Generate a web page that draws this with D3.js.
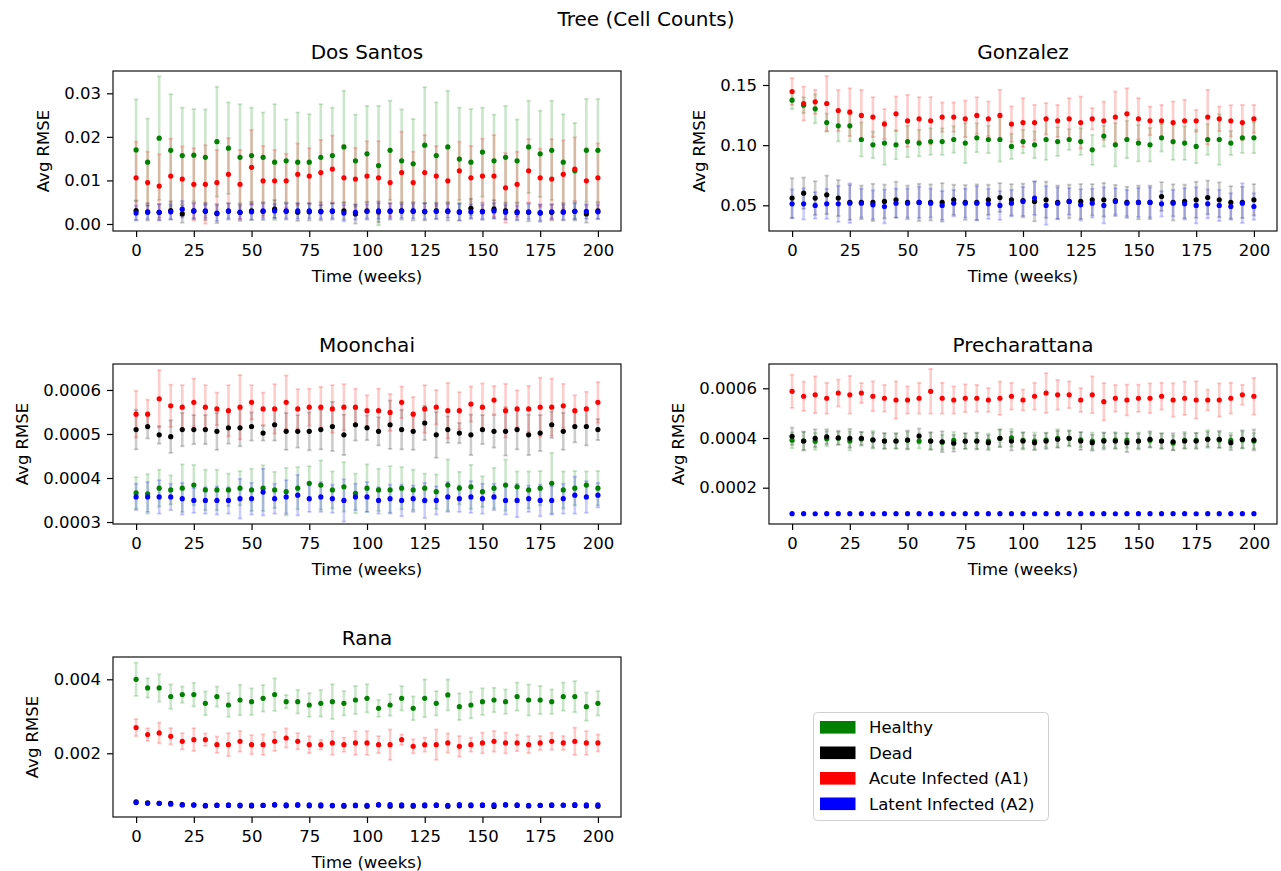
<!DOCTYPE html>
<html>
<head>
<meta charset="utf-8">
<script src="https://cdn.jsdelivr.net/npm/d3@7"></script>
<style>
  body { margin: 0; background: #fff; }
  svg { display: block; font-family: "DejaVu Sans", sans-serif; }
</style>
</head>
<body>
<svg id="chart" width="1281" height="871"></svg>
<script>
// ---- data ---------------------------------------------------------------
const weeks = [0, 5, 10, 15, 20, 25, 30, 35, 40, 45, 50, 55, 60, 65, 70, 75, 80, 85, 90, 95,
  100, 105, 110, 115, 120, 125, 130, 135, 140, 145, 150, 155, 160, 165, 170, 175, 180, 185, 190, 195, 200];
const weekTicks = [0, 25, 50, 75, 100, 125, 150, 175, 200];
const seriesNames = ["Healthy", "Dead", "Acute Infected (A1)", "Latent Infected (A2)"];

// Dos Santos
const dosSantosHealthy = [0.0170, 0.0142, 0.0197, 0.0169, 0.0157, 0.0158, 0.0153, 0.0189, 0.0174, 0.0153,
  0.0157, 0.0153, 0.0142, 0.0145, 0.0142, 0.0142, 0.0153, 0.0157, 0.0177, 0.0145,
  0.0161, 0.0134, 0.0169, 0.0145, 0.0138, 0.0181, 0.0157, 0.0177, 0.0149, 0.0142,
  0.0165, 0.0145, 0.0153, 0.0145, 0.0177, 0.0161, 0.0169, 0.0142, 0.0122, 0.0169, 0.0169];
const dosSantosHealthyErr = [0.0116, 0.0100, 0.0142, 0.0129, 0.0110, 0.0106, 0.0110, 0.0126, 0.0105, 0.0122,
  0.0110, 0.0103, 0.0133, 0.0095, 0.0114, 0.0110, 0.0122, 0.0110, 0.0129, 0.0106,
  0.0110, 0.0137, 0.0114, 0.0118, 0.0103, 0.0133, 0.0122, 0.0129, 0.0118, 0.0122,
  0.0102, 0.0106, 0.0118, 0.0095, 0.0106, 0.0099, 0.0114, 0.0110, 0.0110, 0.0118, 0.0118];
const dosSantosDead = [0.0031, 0.0028, 0.0027, 0.0031, 0.0023, 0.0030, 0.0029, 0.0024, 0.0029, 0.0027,
  0.0030, 0.0029, 0.0034, 0.0029, 0.0027, 0.0028, 0.0029, 0.0029, 0.0030, 0.0023,
  0.0030, 0.0028, 0.0029, 0.0030, 0.0029, 0.0028, 0.0030, 0.0029, 0.0028, 0.0036,
  0.0029, 0.0034, 0.0030, 0.0028, 0.0027, 0.0025, 0.0027, 0.0028, 0.0029, 0.0023, 0.0030];
const dosSantosDeadErr = [0.0022, 0.0020, 0.0019, 0.0021, 0.0020, 0.0019, 0.0020, 0.0022, 0.0019, 0.0020,
  0.0021, 0.0020, 0.0021, 0.0019, 0.0020, 0.0020, 0.0021, 0.0019, 0.0020, 0.0022,
  0.0020, 0.0024, 0.0019, 0.0020, 0.0021, 0.0020, 0.0019, 0.0021, 0.0020, 0.0022,
  0.0020, 0.0021, 0.0019, 0.0020, 0.0021, 0.0020, 0.0019, 0.0020, 0.0021, 0.0020, 0.0019];
const dosSantosAcute = [0.0106, 0.0095, 0.0087, 0.0110, 0.0103, 0.0091, 0.0091, 0.0095, 0.0114, 0.0091,
  0.0130, 0.0099, 0.0099, 0.0099, 0.0114, 0.0110, 0.0118, 0.0126, 0.0106, 0.0103,
  0.0110, 0.0106, 0.0095, 0.0118, 0.0095, 0.0118, 0.0110, 0.0099, 0.0122, 0.0106,
  0.0110, 0.0110, 0.0083, 0.0091, 0.0122, 0.0106, 0.0103, 0.0114, 0.0126, 0.0099, 0.0106];
const dosSantosAcuteErr = [0.0083, 0.0071, 0.0073, 0.0086, 0.0075, 0.0083, 0.0090, 0.0075, 0.0083, 0.0079,
  0.0086, 0.0080, 0.0071, 0.0062, 0.0071, 0.0064, 0.0075, 0.0077, 0.0075, 0.0072,
  0.0080, 0.0084, 0.0078, 0.0094, 0.0071, 0.0086, 0.0069, 0.0075, 0.0067, 0.0073,
  0.0086, 0.0094, 0.0080, 0.0075, 0.0073, 0.0067, 0.0092, 0.0078, 0.0073, 0.0076, 0.0079];
const dosSantosLatent = [0.0025, 0.0027, 0.0027, 0.0028, 0.0034, 0.0030, 0.0030, 0.0025, 0.0030, 0.0027,
  0.0028, 0.0030, 0.0030, 0.0030, 0.0030, 0.0030, 0.0028, 0.0030, 0.0025, 0.0027,
  0.0029, 0.0030, 0.0030, 0.0030, 0.0030, 0.0029, 0.0029, 0.0030, 0.0027, 0.0028,
  0.0028, 0.0030, 0.0027, 0.0026, 0.0028, 0.0026, 0.0028, 0.0027, 0.0029, 0.0029, 0.0028];
const dosSantosLatentErr = [0.0017, 0.0016, 0.0018, 0.0017, 0.0019, 0.0017, 0.0016, 0.0018, 0.0017, 0.0016,
  0.0018, 0.0017, 0.0016, 0.0017, 0.0018, 0.0017, 0.0016, 0.0017, 0.0019, 0.0017,
  0.0016, 0.0018, 0.0017, 0.0016, 0.0017, 0.0018, 0.0017, 0.0016, 0.0019, 0.0017,
  0.0016, 0.0018, 0.0017, 0.0016, 0.0017, 0.0018, 0.0016, 0.0017, 0.0018, 0.0017, 0.0016];
const dosSantosTicks = [0.00, 0.01, 0.02, 0.03];

// Gonzalez
const gonzalezHealthy = [0.1374, 0.1332, 0.1302, 0.1188, 0.1161, 0.1161, 0.1047, 0.1003, 0.1017, 0.1003,
  0.1030, 0.1017, 0.1030, 0.1030, 0.1047, 0.1017, 0.1061, 0.1047, 0.1047, 0.0989,
  0.1030, 0.1003, 0.1047, 0.1030, 0.1047, 0.1030, 0.0961, 0.1075, 0.1003, 0.1047,
  0.1017, 0.1003, 0.1061, 0.1030, 0.1017, 0.0989, 0.1047, 0.1047, 0.1017, 0.1061, 0.1061];
const gonzalezHealthyErr = [0.0075, 0.0066, 0.0120, 0.0075, 0.0130, 0.0130, 0.0141, 0.0110, 0.0180, 0.0120,
  0.0130, 0.0110, 0.0110, 0.0110, 0.0110, 0.0166, 0.0120, 0.0114, 0.0183, 0.0105,
  0.0097, 0.0111, 0.0169, 0.0120, 0.0086, 0.0111, 0.0125, 0.0086, 0.0180, 0.0155,
  0.0152, 0.0139, 0.0114, 0.0152, 0.0139, 0.0139, 0.0127, 0.0210, 0.0100, 0.0127, 0.0127];
const gonzalezDead = [0.0560, 0.0601, 0.0560, 0.0587, 0.0560, 0.0524, 0.0524, 0.0524, 0.0532, 0.0546,
  0.0524, 0.0524, 0.0524, 0.0524, 0.0546, 0.0524, 0.0524, 0.0546, 0.0565, 0.0546,
  0.0540, 0.0532, 0.0546, 0.0524, 0.0532, 0.0532, 0.0546, 0.0546, 0.0540, 0.0524,
  0.0524, 0.0524, 0.0573, 0.0524, 0.0532, 0.0546, 0.0565, 0.0546, 0.0524, 0.0524, 0.0546];
const gonzalezDeadErr = [0.0165, 0.0130, 0.0140, 0.0160, 0.0150, 0.0145, 0.0140, 0.0155, 0.0140, 0.0150,
  0.0140, 0.0155, 0.0150, 0.0160, 0.0125, 0.0145, 0.0150, 0.0125, 0.0120, 0.0130,
  0.0140, 0.0165, 0.0150, 0.0140, 0.0140, 0.0145, 0.0130, 0.0140, 0.0130, 0.0130,
  0.0140, 0.0140, 0.0120, 0.0150, 0.0140, 0.0150, 0.0140, 0.0145, 0.0135, 0.0130, 0.0130];
const gonzalezAcute = [0.1446, 0.1346, 0.1360, 0.1346, 0.1288, 0.1274, 0.1247, 0.1233, 0.1175, 0.1260,
  0.1202, 0.1219, 0.1202, 0.1233, 0.1233, 0.1219, 0.1247, 0.1219, 0.1247, 0.1175,
  0.1188, 0.1188, 0.1219, 0.1202, 0.1219, 0.1188, 0.1219, 0.1202, 0.1233, 0.1260,
  0.1219, 0.1202, 0.1202, 0.1188, 0.1202, 0.1202, 0.1233, 0.1219, 0.1202, 0.1188, 0.1219];
const gonzalezAcuteErr = [0.0111, 0.0141, 0.0100, 0.0230, 0.0172, 0.0199, 0.0213, 0.0166, 0.0125, 0.0144,
  0.0216, 0.0180, 0.0197, 0.0122, 0.0122, 0.0152, 0.0152, 0.0144, 0.0213, 0.0147,
  0.0202, 0.0147, 0.0130, 0.0133, 0.0172, 0.0216, 0.0089, 0.0160, 0.0213, 0.0213,
  0.0172, 0.0119, 0.0133, 0.0175, 0.0175, 0.0091, 0.0227, 0.0102, 0.0130, 0.0147, 0.0116];
const gonzalezLatent = [0.0512, 0.0512, 0.0499, 0.0512, 0.0512, 0.0518, 0.0518, 0.0504, 0.0490, 0.0518,
  0.0518, 0.0524, 0.0518, 0.0499, 0.0518, 0.0518, 0.0518, 0.0512, 0.0499, 0.0518,
  0.0532, 0.0560, 0.0499, 0.0518, 0.0532, 0.0504, 0.0518, 0.0499, 0.0532, 0.0518,
  0.0524, 0.0524, 0.0512, 0.0518, 0.0512, 0.0499, 0.0512, 0.0499, 0.0490, 0.0518, 0.0490];
const gonzalezLatentErr = [0.0120, 0.0130, 0.0110, 0.0125, 0.0150, 0.0165, 0.0120, 0.0120, 0.0140, 0.0120,
  0.0120, 0.0130, 0.0120, 0.0120, 0.0110, 0.0120, 0.0140, 0.0125, 0.0120, 0.0110,
  0.0120, 0.0140, 0.0160, 0.0130, 0.0110, 0.0130, 0.0120, 0.0150, 0.0110, 0.0110,
  0.0120, 0.0125, 0.0105, 0.0110, 0.0130, 0.0150, 0.0120, 0.0130, 0.0110, 0.0165, 0.0110];
const gonzalezTicks = [0.05, 0.10, 0.15];

// Moonchai
const moonchaiHealthy = [0.000366, 0.000364, 0.000377, 0.000373, 0.000377, 0.000384, 0.000373, 0.000373, 0.000373, 0.000377,
  0.000373, 0.000377, 0.000373, 0.000369, 0.000377, 0.000388, 0.000384, 0.000373, 0.000380, 0.000365,
  0.000377, 0.000373, 0.000373, 0.000377, 0.000373, 0.000377, 0.000369, 0.000384, 0.000377, 0.000380,
  0.000369, 0.000377, 0.000384, 0.000380, 0.000373, 0.000377, 0.000388, 0.000373, 0.000377, 0.000384, 0.000377];
const moonchaiHealthyErr = [3.6e-5, 4.5e-5, 4.2e-5, 3.3e-5, 5.4e-5, 4.6e-5, 4.6e-5, 4.6e-5, 3.7e-5, 3.9e-5,
  4.8e-5, 5.2e-5, 4.1e-5, 5.4e-5, 4.8e-5, 3.9e-5, 5.6e-5, 4.2e-5, 5.6e-5, 4.5e-5,
  5.4e-5, 4.8e-5, 5.4e-5, 4.8e-5, 4.6e-5, 3.3e-5, 3.9e-5, 5.8e-5, 3.7e-5, 5.0e-5,
  3.5e-5, 4.6e-5, 5.8e-5, 3.5e-5, 4.2e-5, 3.9e-5, 6.9e-5, 4.2e-5, 3.9e-5, 3.1e-5, 3.9e-5];
const moonchaiDead = [0.000510, 0.000517, 0.000498, 0.000494, 0.000510, 0.000510, 0.000510, 0.000506, 0.000514, 0.000514,
  0.000517, 0.000502, 0.000521, 0.000506, 0.000506, 0.000506, 0.000510, 0.000517, 0.000498, 0.000521,
  0.000514, 0.000506, 0.000521, 0.000510, 0.000506, 0.000525, 0.000498, 0.000510, 0.000502, 0.000498,
  0.000510, 0.000506, 0.000506, 0.000510, 0.000498, 0.000502, 0.000521, 0.000506, 0.000517, 0.000517, 0.000510];
const moonchaiDeadErr = [4.5e-5, 2.7e-5, 2.0e-5, 3.7e-5, 3.8e-5, 3.3e-5, 3.3e-5, 4.2e-5, 3.6e-5, 4.2e-5,
  3.2e-5, 1.7e-5, 3.6e-5, 4.2e-5, 3.7e-5, 4.3e-5, 4.5e-5, 5.6e-5, 4.6e-5, 3.6e-5,
  2.8e-5, 3.2e-5, 5.5e-5, 4.5e-5, 4.2e-5, 3.9e-5, 5.2e-5, 3.0e-5, 2.3e-5, 4.6e-5,
  3.3e-5, 3.7e-5, 5.5e-5, 4.5e-5, 4.6e-5, 4.1e-5, 3.0e-5, 4.2e-5, 3.6e-5, 4.3e-5, 2.4e-5];
const moonchaiAcute = [0.000545, 0.000545, 0.000580, 0.000564, 0.000561, 0.000572, 0.000561, 0.000557, 0.000553, 0.000561,
  0.000572, 0.000557, 0.000557, 0.000572, 0.000557, 0.000561, 0.000561, 0.000557, 0.000561, 0.000561,
  0.000553, 0.000553, 0.000549, 0.000572, 0.000545, 0.000557, 0.000561, 0.000553, 0.000553, 0.000568,
  0.000561, 0.000577, 0.000553, 0.000557, 0.000557, 0.000561, 0.000561, 0.000564, 0.000553, 0.000557, 0.000572];
const moonchaiAcuteErr = [5.3e-5, 3.3e-5, 6.5e-5, 4.8e-5, 5.0e-5, 5.4e-5, 5.0e-5, 3.7e-5, 5.8e-5, 7.3e-5,
  3.9e-5, 3.7e-5, 5.6e-5, 6.1e-5, 4.5e-5, 4.2e-5, 4.6e-5, 5.4e-5, 5.2e-5, 4.2e-5,
  3.5e-5, 5.0e-5, 4.2e-5, 3.6e-5, 3.9e-5, 5.4e-5, 3.9e-5, 6.3e-5, 4.2e-5, 4.0e-5,
  5.4e-5, 3.2e-5, 6.1e-5, 4.2e-5, 5.2e-5, 6.7e-5, 6.5e-5, 5.0e-5, 3.5e-5, 3.9e-5, 4.6e-5];
const moonchaiLatent = [0.000357, 0.000357, 0.000357, 0.000357, 0.000353, 0.000349, 0.000349, 0.000349, 0.000349, 0.000353,
  0.000353, 0.000368, 0.000353, 0.000357, 0.000361, 0.000353, 0.000357, 0.000353, 0.000349, 0.000357,
  0.000357, 0.000349, 0.000353, 0.000349, 0.000353, 0.000349, 0.000349, 0.000357, 0.000353, 0.000357,
  0.000353, 0.000357, 0.000349, 0.000349, 0.000353, 0.000349, 0.000349, 0.000353, 0.000361, 0.000357, 0.000361];
const moonchaiLatentErr = [3.0e-5, 3.4e-5, 3.8e-5, 3.0e-5, 3.6e-5, 2.8e-5, 3.0e-5, 3.2e-5, 3.0e-5, 4.5e-5,
  3.6e-5, 5.3e-5, 3.4e-5, 3.8e-5, 4.6e-5, 3.0e-5, 3.4e-5, 3.2e-5, 4.8e-5, 3.0e-5,
  3.4e-5, 3.0e-5, 3.2e-5, 3.6e-5, 3.0e-5, 4.0e-5, 3.2e-5, 3.4e-5, 3.0e-5, 3.6e-5,
  3.4e-5, 3.0e-5, 3.2e-5, 3.8e-5, 3.0e-5, 3.6e-5, 3.2e-5, 3.4e-5, 4.2e-5, 3.6e-5, 2.8e-5];
const moonchaiTicks = [0.0003, 0.0004, 0.0005, 0.0006];

// Precharattana
const precharattanaHealthy = [0.000391, 0.000388, 0.000387, 0.000397, 0.000399, 0.000388, 0.000396, 0.000393, 0.000388, 0.000388,
  0.000391, 0.000388, 0.000388, 0.000383, 0.000391, 0.000387, 0.000388, 0.000388, 0.000399, 0.000401,
  0.000391, 0.000388, 0.000392, 0.000399, 0.000399, 0.000393, 0.000388, 0.000391, 0.000392, 0.000391,
  0.000388, 0.000391, 0.000388, 0.000380, 0.000391, 0.000391, 0.000396, 0.000392, 0.000391, 0.000392, 0.000388];
const precharattanaHealthyErr = [3.2e-5, 3.6e-5, 3.4e-5, 3.0e-5, 2.6e-5, 3.8e-5, 2.8e-5, 3.6e-5, 3.0e-5, 3.2e-5,
  3.4e-5, 3.0e-5, 3.2e-5, 3.0e-5, 3.4e-5, 3.0e-5, 3.2e-5, 3.0e-5, 3.4e-5, 3.6e-5,
  3.2e-5, 3.4e-5, 3.0e-5, 3.6e-5, 3.2e-5, 3.0e-5, 3.4e-5, 3.0e-5, 3.2e-5, 3.0e-5,
  3.4e-5, 3.0e-5, 3.2e-5, 3.0e-5, 3.4e-5, 3.0e-5, 3.6e-5, 3.2e-5, 3.0e-5, 3.4e-5, 3.2e-5];
const precharattanaDead = [0.000407, 0.000388, 0.000399, 0.000405, 0.000401, 0.000399, 0.000399, 0.000392, 0.000388, 0.000388,
  0.000392, 0.000408, 0.000388, 0.000385, 0.000379, 0.000388, 0.000388, 0.000381, 0.000399, 0.000388,
  0.000388, 0.000381, 0.000388, 0.000395, 0.000399, 0.000388, 0.000381, 0.000388, 0.000388, 0.000381,
  0.000388, 0.000395, 0.000388, 0.000385, 0.000388, 0.000388, 0.000395, 0.000395, 0.000381, 0.000395, 0.000392];
const precharattanaDeadErr = [3.5e-5, 3.8e-5, 3.6e-5, 3.0e-5, 2.8e-5, 3.8e-5, 2.6e-5, 3.0e-5, 3.2e-5, 3.0e-5,
  3.8e-5, 3.0e-5, 3.6e-5, 4.2e-5, 3.4e-5, 3.2e-5, 3.4e-5, 3.0e-5, 3.6e-5, 3.8e-5,
  3.4e-5, 3.0e-5, 3.2e-5, 3.4e-5, 3.0e-5, 3.6e-5, 3.2e-5, 3.4e-5, 3.2e-5, 3.8e-5,
  3.0e-5, 3.2e-5, 3.0e-5, 3.4e-5, 3.0e-5, 3.2e-5, 3.0e-5, 3.4e-5, 3.0e-5, 3.6e-5, 4.2e-5];
const precharattanaAcute = [0.000588, 0.000568, 0.000574, 0.000560, 0.000581, 0.000574, 0.000581, 0.000568, 0.000560, 0.000553,
  0.000553, 0.000560, 0.000588, 0.000560, 0.000553, 0.000560, 0.000560, 0.000553, 0.000560, 0.000568,
  0.000553, 0.000568, 0.000581, 0.000574, 0.000574, 0.000553, 0.000574, 0.000546, 0.000560, 0.000553,
  0.000560, 0.000560, 0.000568, 0.000553, 0.000560, 0.000553, 0.000553, 0.000553, 0.000560, 0.000574, 0.000568];
const precharattanaAcuteErr = [6.7e-5, 5.9e-5, 7.4e-5, 6.2e-5, 5.4e-5, 7.6e-5, 4.0e-5, 6.0e-5, 5.4e-5, 7.5e-5,
  5.5e-5, 6.2e-5, 9.0e-5, 6.2e-5, 5.5e-5, 5.6e-5, 5.4e-5, 4.8e-5, 6.7e-5, 5.4e-5,
  4.2e-5, 5.4e-5, 8.0e-5, 6.0e-5, 5.4e-5, 4.8e-5, 7.4e-5, 7.5e-5, 5.4e-5, 6.2e-5,
  5.5e-5, 6.0e-5, 5.4e-5, 6.7e-5, 6.7e-5, 7.5e-5, 4.2e-5, 6.7e-5, 6.2e-5, 4.0e-5, 7.4e-5];
const precharattanaLatent = [0.0000953, 0.0000953, 0.0000952, 0.0000953, 0.0000953, 0.0000954, 0.0000953, 0.0000952, 0.0000953, 0.0000953,
  0.0000953, 0.0000954, 0.0000953, 0.0000953, 0.0000952, 0.0000953, 0.0000953, 0.0000953, 0.0000954, 0.0000953,
  0.0000953, 0.0000952, 0.0000953, 0.0000953, 0.0000953, 0.0000954, 0.0000953, 0.0000953, 0.0000952, 0.0000953,
  0.0000953, 0.0000953, 0.0000954, 0.0000953, 0.0000953, 0.0000952, 0.0000953, 0.0000953, 0.0000953, 0.0000954, 0.0000953];
const precharattanaLatentErr = [2.0e-6, 1.8e-6, 2.1e-6, 1.9e-6, 2.0e-6, 1.8e-6, 2.0e-6, 2.1e-6, 1.9e-6, 2.0e-6,
  1.8e-6, 2.0e-6, 2.1e-6, 1.9e-6, 2.0e-6, 1.8e-6, 2.0e-6, 2.1e-6, 1.9e-6, 2.0e-6,
  1.8e-6, 2.0e-6, 2.1e-6, 1.9e-6, 2.0e-6, 1.8e-6, 2.0e-6, 2.1e-6, 1.9e-6, 2.0e-6,
  1.8e-6, 2.0e-6, 2.1e-6, 1.9e-6, 2.0e-6, 1.8e-6, 2.0e-6, 2.1e-6, 1.9e-6, 2.0e-6, 1.8e-6];
const precharattanaTicks = [0.0002, 0.0004, 0.0006];

// Rana
const ranaHealthy = [0.004000, 0.003766, 0.003766, 0.003532, 0.003586, 0.003586, 0.003351, 0.003532, 0.003306, 0.003441,
  0.003396, 0.003487, 0.003586, 0.003396, 0.003396, 0.003306, 0.003351, 0.003396, 0.003351, 0.003441,
  0.003487, 0.003216, 0.003306, 0.003487, 0.003216, 0.003487, 0.003351, 0.003577, 0.003261, 0.003306,
  0.003396, 0.003441, 0.003396, 0.003532, 0.003441, 0.003441, 0.003396, 0.003532, 0.003532, 0.003261, 0.003351];
const ranaHealthyErr = [4.5e-4, 2.6e-4, 3.7e-4, 3.3e-4, 2.2e-4, 3.2e-4, 3.2e-4, 2.7e-4, 3.2e-4, 4.1e-4,
  3.6e-4, 3.6e-4, 4.4e-4, 1.8e-4, 3.2e-4, 3.2e-4, 3.6e-4, 4.7e-4, 3.3e-4, 3.8e-4,
  3.8e-4, 2.3e-4, 2.9e-4, 3.3e-4, 3.2e-4, 5.1e-4, 3.3e-4, 4.2e-4, 3.6e-4, 3.6e-4,
  3.6e-4, 3.3e-4, 3.3e-4, 3.8e-4, 4.2e-4, 3.8e-4, 3.3e-4, 3.8e-4, 4.2e-4, 3.8e-4, 3.3e-4];
const ranaDead = [0.000685, 0.000660, 0.000650, 0.000650, 0.000610, 0.000600, 0.000575, 0.000590, 0.000590, 0.000580,
  0.000575, 0.000590, 0.000600, 0.000580, 0.000595, 0.000580, 0.000575, 0.000580, 0.000570, 0.000585,
  0.000570, 0.000600, 0.000570, 0.000575, 0.000570, 0.000580, 0.000590, 0.000570, 0.000580, 0.000585,
  0.000590, 0.000565, 0.000600, 0.000590, 0.000575, 0.000590, 0.000590, 0.000595, 0.000590, 0.000575, 0.000570];
const ranaDeadErr = [3.2e-5, 3.0e-5, 2.8e-5, 3.4e-5, 3.0e-5, 2.6e-5, 3.2e-5, 3.0e-5, 2.8e-5, 3.0e-5,
  3.2e-5, 2.8e-5, 3.0e-5, 3.4e-5, 3.0e-5, 2.8e-5, 3.2e-5, 3.0e-5, 2.6e-5, 3.0e-5,
  3.2e-5, 3.0e-5, 2.8e-5, 3.0e-5, 3.4e-5, 3.0e-5, 2.8e-5, 3.2e-5, 3.0e-5, 2.8e-5,
  3.0e-5, 3.2e-5, 3.0e-5, 2.8e-5, 3.0e-5, 3.4e-5, 3.0e-5, 2.8e-5, 3.2e-5, 3.0e-5, 2.8e-5];
const ranaAcute = [0.002694, 0.002505, 0.002550, 0.002460, 0.002324, 0.002369, 0.002369, 0.002234, 0.002234, 0.002324,
  0.002234, 0.002234, 0.002324, 0.002414, 0.002324, 0.002234, 0.002234, 0.002279, 0.002234, 0.002279,
  0.002279, 0.002234, 0.002234, 0.002369, 0.002189, 0.002234, 0.002234, 0.002279, 0.002189, 0.002234,
  0.002279, 0.002324, 0.002279, 0.002279, 0.002234, 0.002279, 0.002324, 0.002279, 0.002324, 0.002279, 0.002279];
const ranaAcuteErr = [2.3e-4, 1.7e-4, 2.8e-4, 2.2e-4, 2.2e-4, 3.1e-4, 1.7e-4, 2.2e-4, 3.1e-4, 2.8e-4,
  2.6e-4, 2.8e-4, 2.6e-4, 2.6e-4, 2.2e-4, 2.3e-4, 1.3e-4, 3.2e-4, 1.9e-4, 3.2e-4,
  3.2e-4, 2.3e-4, 4.1e-4, 1.4e-4, 1.9e-4, 1.9e-4, 4.1e-4, 2.6e-4, 2.8e-4, 1.9e-4,
  2.8e-4, 2.8e-4, 2.8e-4, 2.2e-4, 2.3e-4, 1.9e-4, 2.3e-4, 1.9e-4, 3.7e-4, 3.2e-4, 2.3e-4];
const ranaLatent = [0.000667, 0.000649, 0.000649, 0.000622, 0.000604, 0.000604, 0.000595, 0.000600, 0.000604, 0.000600,
  0.000600, 0.000595, 0.000613, 0.000604, 0.000610, 0.000604, 0.000604, 0.000595, 0.000590, 0.000600,
  0.000595, 0.000613, 0.000610, 0.000605, 0.000595, 0.000604, 0.000604, 0.000595, 0.000610, 0.000604,
  0.000604, 0.000605, 0.000613, 0.000604, 0.000595, 0.000595, 0.000604, 0.000600, 0.000610, 0.000604, 0.000604];
const ranaLatentErr = [2.6e-5, 2.4e-5, 2.2e-5, 2.6e-5, 2.4e-5, 2.2e-5, 2.5e-5, 2.4e-5, 2.2e-5, 2.6e-5,
  2.4e-5, 2.2e-5, 2.5e-5, 2.4e-5, 2.6e-5, 2.2e-5, 2.4e-5, 2.5e-5, 2.2e-5, 2.4e-5,
  2.6e-5, 2.4e-5, 2.2e-5, 2.5e-5, 2.4e-5, 2.2e-5, 2.6e-5, 2.4e-5, 2.2e-5, 2.5e-5,
  2.4e-5, 2.6e-5, 2.2e-5, 2.4e-5, 2.5e-5, 2.2e-5, 2.4e-5, 2.6e-5, 2.4e-5, 2.2e-5, 2.4e-5];
const ranaTicks = [0.002, 0.004];

// ---- layout & drawing ---------------------------------------------------
const colors = ["#008000", "#000000", "#ff0000", "#0000ff"];
const svg = d3.select("#chart");
const W = 508, H = 160;

const panels = [
  { title: "Dos Santos", left: 113, top: 71, yDomain: [-0.00161, 0.03512], ticks: dosSantosTicks, fmt: ".2f",
    series: [[dosSantosHealthy, dosSantosHealthyErr], [dosSantosDead, dosSantosDeadErr],
             [dosSantosAcute, dosSantosAcuteErr], [dosSantosLatent, dosSantosLatentErr]] },
  { title: "Gonzalez", left: 769, top: 71, yDomain: [0.02864, 0.16163], ticks: gonzalezTicks, fmt: ".2f",
    series: [[gonzalezHealthy, gonzalezHealthyErr], [gonzalezDead, gonzalezDeadErr],
             [gonzalezAcute, gonzalezAcuteErr], [gonzalezLatent, gonzalezLatentErr]] },
  { title: "Moonchai", left: 113, top: 364, yDomain: [0.0002955, 0.000659], ticks: moonchaiTicks, fmt: ".4f",
    series: [[moonchaiHealthy, moonchaiHealthyErr], [moonchaiDead, moonchaiDeadErr],
             [moonchaiAcute, moonchaiAcuteErr], [moonchaiLatent, moonchaiLatentErr]] },
  { title: "Precharattana", left: 769, top: 364, yDomain: [0.0000539, 0.0006978], ticks: precharattanaTicks, fmt: ".4f",
    series: [[precharattanaHealthy, precharattanaHealthyErr], [precharattanaDead, precharattanaDeadErr],
             [precharattanaAcute, precharattanaAcuteErr], [precharattanaLatent, precharattanaLatentErr]] },
  { title: "Rana", left: 113, top: 657, yDomain: [0.000278, 0.004603], ticks: ranaTicks, fmt: ".3f",
    series: [[ranaHealthy, ranaHealthyErr], [ranaDead, ranaDeadErr],
             [ranaAcute, ranaAcuteErr], [ranaLatent, ranaLatentErr]] }
];

svg.append("text")
  .attr("x", 646).attr("y", 26)
  .attr("text-anchor", "middle")
  .attr("font-size", "20px").attr("fill", "#000")
  .text("Tree (Cell Counts)");

panels.forEach(p => {
  const g = svg.append("g").attr("transform", `translate(${p.left},${p.top})`);
  const x = d3.scaleLinear().domain([-10, 210]).range([0, W]);
  const y = d3.scaleLinear().domain(p.yDomain).range([H, 0]);

  // error bars: all series first, markers drawn on top afterwards
  p.series.forEach(([mean, err], si) => {
    const bars = g.append("g").attr("stroke", colors[si]).attr("stroke-opacity", 0.2);
    weeks.forEach((t, i) => {
      const cx = x(t), y0 = y(mean[i] - err[i]), y1 = y(mean[i] + err[i]);
      bars.append("line").attr("x1", cx).attr("x2", cx).attr("y1", y0).attr("y2", y1)
        .attr("stroke-width", 2.6);
      [y0, y1].forEach(cy => bars.append("line")
        .attr("x1", cx - 2.2).attr("x2", cx + 2.2).attr("y1", cy).attr("y2", cy)
        .attr("stroke-width", 1.8));
    });
  });
  p.series.forEach(([mean], si) => {
    g.append("g").attr("fill", colors[si])
      .selectAll("circle").data(weeks).join("circle")
      .attr("cx", t => x(t)).attr("cy", (t, i) => y(mean[i])).attr("r", 2.6);
  });

  // axes
  const xAxis = g.append("g").attr("transform", `translate(0,${H})`)
    .call(d3.axisBottom(x).tickValues(weekTicks).tickSize(6).tickPadding(7).tickFormat(d3.format("d")));
  const yAxis = g.append("g")
    .call(d3.axisLeft(y).tickValues(p.ticks).tickSize(6).tickPadding(6).tickFormat(d3.format(p.fmt)));
  [xAxis, yAxis].forEach(a => {
    a.select(".domain").remove();
    a.selectAll(".tick line").attr("stroke", "#000").attr("stroke-width", 1.2);
    a.selectAll(".tick text").attr("font-size", "16.5px").attr("fill", "#000")
      .attr("font-family", "DejaVu Sans, sans-serif");
  });

  g.append("rect").attr("x", 0).attr("y", 0).attr("width", W).attr("height", H)
    .attr("fill", "none").attr("stroke", "#111").attr("stroke-width", 1.2);

  g.append("text").attr("x", W / 2).attr("y", -12)
    .attr("text-anchor", "middle").attr("font-size", "20px").attr("fill", "#000")
    .text(p.title);

  g.append("text").attr("x", W / 2).attr("y", H + 50.5)
    .attr("text-anchor", "middle").attr("font-size", "16.5px").attr("fill", "#000")
    .text("Time (weeks)");

  // y label placed just left of the widest tick label
  let maxW = 0;
  yAxis.selectAll(".tick text").each(function () { maxW = Math.max(maxW, this.getComputedTextLength()); });
  const labelX = -6 - 6 - maxW - 15.5;
  g.append("text")
    .attr("transform", `translate(${labelX},${H / 2}) rotate(-90)`)
    .attr("text-anchor", "middle").attr("font-size", "16.5px").attr("fill", "#000")
    .text("Avg RMSE");
});

// legend
const legend = svg.append("g").attr("transform", "translate(813,712)");
legend.append("rect").attr("x", 0.5).attr("y", 0.5).attr("width", 235).attr("height", 108)
  .attr("rx", 4).attr("fill", "#fff").attr("stroke", "#d0d0d0").attr("stroke-width", 1);
seriesNames.forEach((name, i) => {
  const cy = 15.3 + i * 25.5;
  legend.append("rect").attr("x", 7).attr("y", cy - 6.3).attr("width", 35.5).attr("height", 12.6)
    .attr("fill", colors[i]);
  legend.append("text").attr("x", 56).attr("y", cy + 5.8)
    .attr("font-size", "16.5px").attr("fill", "#000").text(name);
});
</script>
</body>
</html>
